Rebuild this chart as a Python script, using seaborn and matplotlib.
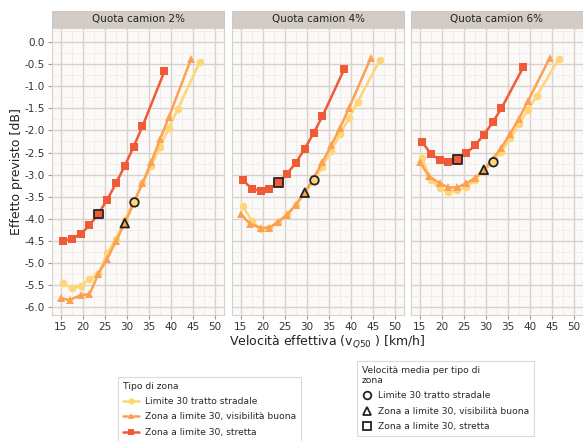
import seaborn as sns
import matplotlib.pyplot as plt
import pandas as pd
from matplotlib.lines import Line2D
from matplotlib.patches import Rectangle
from matplotlib.ticker import MultipleLocator

# dati
panels = ['Quota camion 2%', 'Quota camion 4%', 'Quota camion 6%']
zones = ['Limite 30 tratto stradale', 'Zona a limite 30, visibilità buona', 'Zona a limite 30, stretta']

x_yellow = [15.5, 17.5, 19.5, 21.5, 23.5, 25.5, 27.5, 29.5, 31.5, 33.5, 35.5, 37.5, 39.5, 41.5, 46.5]
x_orange = [15, 17, 19.5, 21.5, 23.5, 25.5, 27.5, 29.5, 31.5, 33.5, 35.5, 37.5, 39.5, 44.5]
x_red = [15.5, 17.5, 19.5, 21.5, 23.5, 25.5, 27.5, 29.5, 31.5, 33.5, 38.5]

y_yellow = [
    [-5.46, -5.57, -5.53, -5.37, -5.25, -4.78, -4.45, -4.03, -3.62, -3.2, -2.8, -2.37, -1.94, -1.52, -0.45],
    [-3.72, -4.05, -4.23, -4.2, -4.07, -3.9, -3.68, -3.42, -3.13, -2.82, -2.46, -2.09, -1.72, -1.35, -0.41],
    [-2.63, -3.12, -3.31, -3.39, -3.36, -3.29, -3.12, -2.92, -2.72, -2.48, -2.18, -1.86, -1.54, -1.22, -0.38],
]
y_orange = [
    [-5.8, -5.84, -5.73, -5.71, -5.25, -4.91, -4.51, -4.1, -3.65, -3.2, -2.72, -2.2, -1.7, -0.39],
    [-3.89, -4.11, -4.21, -4.2, -4.07, -3.91, -3.68, -3.41, -3.08, -2.72, -2.34, -1.94, -1.5, -0.35],
    [-2.71, -3.03, -3.2, -3.29, -3.29, -3.2, -3.08, -2.89, -2.65, -2.39, -2.07, -1.73, -1.34, -0.35],
]
y_red = [
    [-4.5, -4.45, -4.35, -4.15, -3.89, -3.57, -3.2, -2.8, -2.37, -1.91, -0.66],
    [-3.13, -3.32, -3.37, -3.32, -3.18, -2.98, -2.73, -2.41, -2.06, -1.68, -0.6],
    [-2.26, -2.53, -2.67, -2.71, -2.66, -2.52, -2.34, -2.1, -1.82, -1.5, -0.56],
]

# velocità media per tipo di zona
x_mean = [31.7, 29.5, 23.5]
y_mean = [
    [-3.63, -4.1, -3.89],
    [-3.13, -3.41, -3.18],
    [-2.72, -2.89, -2.66],
]

colors = ['#fed678', '#fca153', '#f05a36']
markers = ['o', '^', 's']

rows = []
for p, panel in enumerate(panels):
    for xs, ys, zone in zip([x_yellow, x_orange, x_red], [y_yellow, y_orange, y_red], zones):
        for xv, yv in zip(xs, ys[p]):
            rows.append({'panel': panel, 'zona': zone, 'v': xv, 'effetto': yv})
df = pd.DataFrame(rows)

mean_rows = []
for p, panel in enumerate(panels):
    for zone, xv, yv in zip(zones, x_mean, y_mean[p]):
        mean_rows.append({'panel': panel, 'zona': zone, 'v': xv, 'effetto': yv})
mean_df = pd.DataFrame(mean_rows)

sns.set_style('white')
plt.rcParams['font.family'] = ['DejaVu Sans']

fig = plt.figure(figsize=(5.83, 4.41), dpi=100)
lefts = [52 / 583, 232 / 583, 411 / 583]
width = 172 / 583
bottom = 1 - 315 / 441
height = 287 / 441

grid_major = '#d9d1cb'
grid_minor = '#eee9e5'
palette = dict(zip(zones, colors))
marker_map = dict(zip(zones, markers))

for i, panel in enumerate(panels):
    ax = fig.add_axes([lefts[i], bottom, width, height])
    ax.set_facecolor('#fbfaf8')
    sub = df[df['panel'] == panel]
    sns.lineplot(data=sub, x='v', y='effetto', hue='zona', style='zona',
                 palette=palette, markers=marker_map, dashes=False,
                 hue_order=zones, style_order=zones, linewidth=1.8,
                 markersize=5.5, markeredgewidth=0, legend=False, ax=ax,
                 estimator=None, sort=True)
    msub = mean_df[mean_df['panel'] == panel]
    sns.scatterplot(data=msub, x='v', y='effetto', hue='zona', style='zona',
                    palette=palette, markers=marker_map, hue_order=zones,
                    style_order=zones, s=38, edgecolor='#222222', linewidth=1.3,
                    legend=False, ax=ax, zorder=5)

    ax.set_xlim(13, 52)
    ax.set_ylim(-6.18, 0.32)
    ax.xaxis.set_major_locator(MultipleLocator(5))
    ax.xaxis.set_minor_locator(MultipleLocator(2.5))
    ax.yaxis.set_major_locator(MultipleLocator(0.5))
    ax.yaxis.set_minor_locator(MultipleLocator(0.25))
    ax.grid(which='major', color=grid_major, linewidth=1.0)
    ax.grid(which='minor', color=grid_minor, linewidth=0.5)
    ax.set_axisbelow(True)
    ax.set_xlabel('')
    ax.set_ylabel('')
    ax.tick_params(axis='both', which='major', length=3, color='#999999',
                   labelsize=7.5, labelcolor='#333333', pad=2, left=(i == 0), bottom=True)
    ax.tick_params(which='minor', length=0)
    if i == 0:
        ax.set_yticklabels([f'{t:.1f}'.replace('\u2212', '-') for t in ax.get_yticks()])
    else:
        ax.set_yticklabels([])
    for s in ax.spines.values():
        s.set_color('#d6d0ca')
        s.set_linewidth(0.8)

    # strip header
    ax.add_patch(Rectangle((0, 1.0), 1, 0.06, transform=ax.transAxes,
                           facecolor='#d3ccc6', edgecolor='#c8c1bb',
                           linewidth=0.6, clip_on=False))
    ax.text(0.5, 1.03, panel, transform=ax.transAxes, ha='center', va='center',
            fontsize=7.5, color='#222222')

fig.text(327 / 583, 1 - 342 / 441, 'Velocità effettiva (v$_{Q50}$ ) [km/h]',
         ha='center', va='center', fontsize=9, color='#222222')
fig.text(17 / 583, 1 - 172 / 441, 'Effetto previsto [dB]', rotation=90,
         ha='center', va='center', fontsize=9, color='#222222')

# legende
h1 = [Line2D([], [], color=c, marker=m, markersize=4.5, linewidth=1.8, markeredgewidth=0)
      for c, m in zip(colors, markers)]
leg1 = fig.legend(h1, zones, title='Tipo di zona', loc='upper left',
                  bbox_to_anchor=(113 / 583, 1 - 372 / 441), fontsize=6.6,
                  title_fontsize=6.6, frameon=True, fancybox=False,
                  edgecolor='#d6d0ca', handlelength=1.8, borderpad=0.55,
                  labelspacing=0.7, handletextpad=0.6, alignment='left')
leg1.get_frame().set_linewidth(0.8)

h2 = [Line2D([], [], color='none', marker=m, markersize=5.5, markerfacecolor='white',
             markeredgecolor='#222222', markeredgewidth=1.3)
      for m in markers]
leg2 = fig.legend(h2, zones, title='Velocità media per tipo di\nzona', loc='upper left',
                  bbox_to_anchor=(352 / 583, 1 - 356 / 441), fontsize=6.6,
                  title_fontsize=6.6, frameon=True, fancybox=False,
                  edgecolor='#d6d0ca', handlelength=1.2, borderpad=0.55,
                  labelspacing=0.7, handletextpad=0.6, alignment='left')
leg2.get_frame().set_linewidth(0.8)

fig.savefig('out.png', dpi=100)
